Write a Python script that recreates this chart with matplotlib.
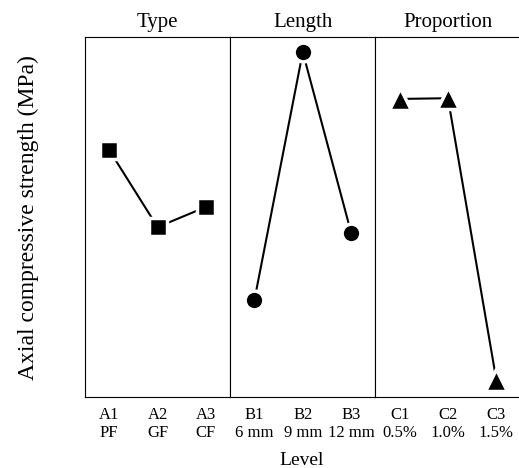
import numpy as np
import matplotlib.pyplot as plt
from matplotlib.markers import MarkerStyle

plt.rcParams.update({
    'font.family': 'Liberation Serif',
    'font.size': 12,
    'axes.linewidth': 0.8,
})

# Factor groups (strength values, MPa)
factors = ['Type', 'Length', 'Proportion']
type_labels = ['A1\nPF', 'A2\nGF', 'A3\nCF']
type_vals = [36.86, 34.72, 35.28]
length_labels = ['B1\n6 mm', 'B2\n9 mm', 'B3\n12 mm']
length_vals = [32.69, 39.58, 34.56]
prop_labels = ['C1\n0.5%', 'C2\n1.0%', 'C3\n1.5%']
prop_vals = [38.28, 38.30, 30.47]

groups = [
    (type_labels, type_vals, 's', 12.5),
    (length_labels, length_vals, 'o', 13.5),
    (prop_labels, prop_vals, '^', 16),
]

fig = plt.figure(figsize=(5.19, 4.68), dpi=100)
gs = fig.add_gridspec(1, 3, left=0.1638, right=1.003, bottom=0.1517, top=0.9209,
                      wspace=0)

for i, (title, (labels, vals, mk, ms)) in enumerate(zip(factors, groups)):
    ax = fig.add_subplot(gs[0, i])
    x = np.arange(len(vals)) + 0.5
    # white marker edge leaves a small gap between line and marker
    ax.plot(x, vals, color='black', lw=1.5,
            marker=MarkerStyle(mk, joinstyle='round'), ms=ms,
            markerfacecolor='black', markeredgecolor='white', mew=2.5)
    ax.set_xlim(0, 3)
    ax.set_ylim(30, 40)
    ax.set_xticks(x)
    ax.set_xticklabels(labels, fontsize=12, linespacing=1.17)
    ax.tick_params(axis='x', length=0, pad=7)
    ax.set_yticks([])
    ax.set_title(title, fontsize=15, pad=7)

fig.text(0.054, 0.536, 'Axial compressive strength (MPa)', rotation=90,
         ha='center', va='center', fontsize=17)
fig.text(0.582, 0.0064, 'Level', ha='center', va='baseline', fontsize=14)

plt.savefig('out.png', dpi=100)
